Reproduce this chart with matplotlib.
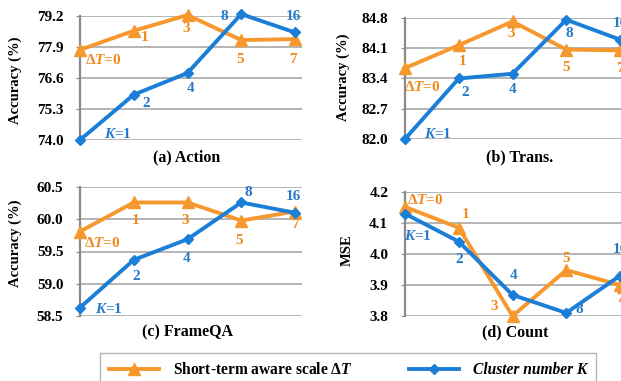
import matplotlib
matplotlib.use("Agg")
import matplotlib.pyplot as plt
from matplotlib.lines import Line2D

plt.rcParams['font.family'] = ['Liberation Serif', 'DejaVu Serif']
plt.rcParams['font.weight'] = 'bold'
plt.rcParams['mathtext.fontset'] = 'custom'
plt.rcParams['mathtext.rm'] = 'Liberation Serif:bold'
plt.rcParams['mathtext.it'] = 'Liberation Serif:italic:bold'
plt.rcParams['mathtext.bf'] = 'Liberation Serif:bold'

ORANGE = "#F7982E"
BLUE = "#1B7FD8"
ORANGE_TXT = "#F08A1E"
BLUE_TXT = "#2579C8"
GRID = "#A8A8A8"
AXIS = "#8A8A8A"

# ====================== DATA ======================
dt_labels = ["Δ$\\mathit{T}$=0", "1", "3", "5", "7"]
k_labels = ["$\\mathit{K}$=1", "2", "4", "8", "16"]

action_dt = [77.78, 78.58, 79.24, 78.19, 78.23]
action_k = [74.0, 75.9, 76.81, 79.28, 78.51]
action_ticks = [74.0, 75.3, 76.6, 77.9, 79.2]

trans_dt = [83.64, 84.17, 84.72, 84.07, 84.05]
trans_k = [82.0, 83.4, 83.51, 84.76, 84.3]
trans_ticks = [82.0, 82.7, 83.4, 84.1, 84.8]

frameqa_dt = [59.81, 60.26, 60.26, 59.98, 60.12]
frameqa_k = [58.63, 59.37, 59.69, 60.26, 60.1]
frameqa_ticks = [58.5, 59.0, 59.5, 60.0, 60.5]

count_dt = [4.152, 4.085, 3.80, 3.948, 3.90]
count_k = [4.13, 4.04, 3.868, 3.81, 3.93]
count_ticks = [3.8, 3.9, 4.0, 4.1, 4.2]

# ====================== LABEL OFFSETS (pixels) ======================
off_a_dt = [(23, -10), (11, -7), (-1, -13), (-1, -19), (-2, -20)]
off_a_k = [(38, 6), (12, -9), (3, -16), (-17, -2), (-2, 16)]
off_b_dt = [(17, -19), (4, -16), (-1, -12), (0, -18), (0, -18)]
off_b_k = [(33, 5), (6, -14), (0, -16), (3, -14), (0, 16)]
off_c_dt = [(22, -11), (2, -18), (-2, -18), (-2, -20), (0, -13)]
off_c_k = [(29, -1), (2, -17), (-1, -19), (7, 10), (-2, 16)]
off_d_dt = [(20, 7), (7, 13), (-18, 9), (0, 12), (0, -14)]
off_d_k = [(13, -22), (0, -18), (1, 19), (13, 3), (0, 26)]

W, H = 621, 381
fig = plt.figure(figsize=(W / 100, H / 100), dpi=100)


def px_axes(left, top, right, bottom):
    return fig.add_axes([left / W, 1 - bottom / H, (right - left) / W, (bottom - top) / H])


def draw_panel(ax, dt, k, ticks, off_dt, off_k, title, ylabel, title_xy, ylabel_xy, fmt):
    x = list(range(len(dt)))
    ax.plot(x, dt, color=ORANGE, lw=2.8, marker="^", ms=9, clip_on=False, zorder=3)
    ax.plot(x, k, color=BLUE, lw=2.8, marker="D", ms=5.5, clip_on=False, zorder=4)
    for i in x:
        ax.annotate(dt_labels[i], (i, dt[i]), xytext=off_dt[i], textcoords="offset pixels",
                    ha="center", va="center", color=ORANGE_TXT, fontsize=11,
                    fontweight="bold", annotation_clip=False)
        ax.annotate(k_labels[i], (i, k[i]), xytext=off_k[i], textcoords="offset pixels",
                    ha="center", va="center", color=BLUE_TXT, fontsize=11,
                    fontweight="bold", annotation_clip=False)
    ax.set_xlim(0, 4.13)
    ax.set_ylim(ticks[0], ticks[-1])
    ax.set_yticks(ticks)
    ax.set_yticklabels([fmt.format(t) for t in ticks], fontsize=11, fontweight="bold")
    ax.set_xticks([])
    ax.grid(axis="y", color=GRID, lw=1.2)
    ax.set_axisbelow(True)
    for s in ["top", "right", "bottom"]:
        ax.spines[s].set_visible(False)
    ax.spines["left"].set_color(AXIS)
    ax.spines["left"].set_linewidth(1.6)
    ax.tick_params(axis="y", length=3, color=AXIS, pad=9)
    fig.text(title_xy[0] / W, 1 - title_xy[1] / H, title, ha="center", va="center",
             fontsize=11.5, fontweight="bold")
    fig.text(ylabel_xy[0] / W, 1 - ylabel_xy[1] / H, ylabel, ha="center", va="center",
             rotation=90, fontsize=10.5, fontweight="bold")


ax1 = px_axes(80, 16, 302, 140)
ax2 = px_axes(405, 18, 627, 139)
ax3 = px_axes(80, 187, 302, 316)
ax4 = px_axes(405, 192, 627, 316)

draw_panel(ax1, action_dt, action_k, action_ticks, off_a_dt, off_a_k,
           "(a) Action", "Accuracy (%)", (187, 157), (15, 80), "{:.1f}")
draw_panel(ax2, trans_dt, trans_k, trans_ticks, off_b_dt, off_b_k,
           "(b) Trans.", "Accuracy (%)", (520, 157), (343, 77), "{:.1f}")
draw_panel(ax3, frameqa_dt, frameqa_k, frameqa_ticks, off_c_dt, off_c_k,
           "(c) FrameQA", "Accuracy (%)", (187, 332), (15, 243), "{:.1f}")
draw_panel(ax4, count_dt, count_k, count_ticks, off_d_dt, off_d_k,
           "(d) Count", "MSE", (515, 332), (347, 250), "{:.1f}")

# ====================== LEGEND ======================
handles = [
    Line2D([], [], color=ORANGE, lw=2.8, marker="^", ms=9),
    Line2D([], [], color=BLUE, lw=2.8, marker="D", ms=5.5),
]
leg = fig.legend(handles, ["Short-term aware scale Δ$\\mathit{T}$", "Cluster number K"],
                 loc="upper left", bbox_to_anchor=(100 / W, 1 - 353 / H), ncol=2,
                 handlelength=3.2, handletextpad=0.9, columnspacing=3.6,
                 borderpad=0.6, borderaxespad=0, frameon=True, fancybox=False,
                 prop={"weight": "bold", "size": 11.2})
leg.get_frame().set_edgecolor("#A0A0A0")
leg.get_frame().set_linewidth(1.0)
leg.get_texts()[1].set_fontstyle("italic")

fig.savefig("out.png", dpi=100)
